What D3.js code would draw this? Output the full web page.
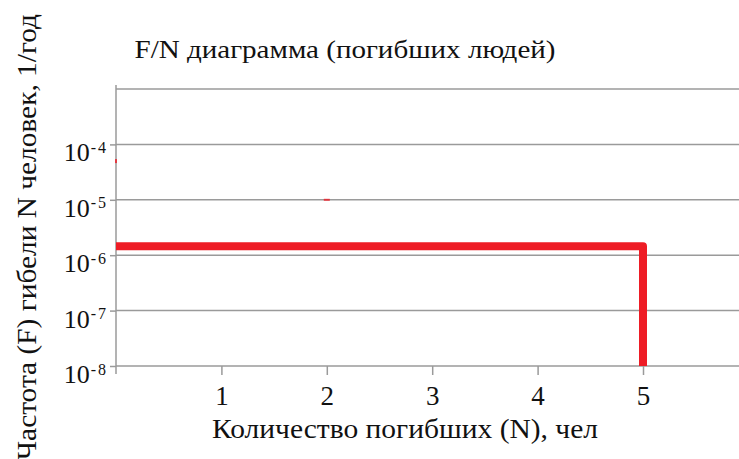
<!DOCTYPE html>
<html>
<head>
<meta charset="utf-8">
<script src="https://cdn.jsdelivr.net/npm/d3@7"></script>
<style>
  body { margin: 0; background: #fff; }
  text { font-family: "Liberation Serif", "Times New Roman", serif; fill: #111; }
</style>
</head>
<body>
<script>
let width = 739;
let height = 459;

// data
let fnN = [0, 5, 5];
let fnF = [1.45e-6, 1.45e-6, 1e-8];
let dotN = [0, 2];
let dotF = [5e-5, 1e-5];
let xTicks = [1, 2, 3, 4, 5];
let yTicks = [1e-8, 1e-7, 1e-6, 1e-5, 1e-4];
let yGrid = [1e-8, 1e-7, 1e-6, 1e-5, 1e-4, 1e-3];

let titleText = "F/N диаграмма (погибших людей)";
let xLabel = "Количество погибших (N), чел";
let yLabel = "Частота (F) гибели N человек, 1/год";

let plotLeft = 116, plotTop = 89, plotBottom = 366;

let x = d3.scaleLinear().domain([0, 6]).range([plotLeft, plotLeft + 6 * 105.4]);
let y = d3.scaleLog().domain([1e-8, 1e-3]).range([plotBottom, plotTop]);

let svg = d3.select("body").append("svg")
    .attr("width", width)
    .attr("height", height);

// the reference text runs a bit wider than Liberation Serif, stretch to fit
function fitWidth(sel, w){
    let len = sel.node().getComputedTextLength();
    if(Math.abs(len - w) > 2){
        sel.attr("textLength", w).attr("lengthAdjust", "spacingAndGlyphs");
    }
}

// horizontal grid
svg.append("g").selectAll("line")
    .data(yGrid)
    .enter()
    .append("line")
        .attr("x1", plotLeft)
        .attr("x2", width)
        .attr("y1", function(d){ return y(d); })
        .attr("y2", function(d){ return y(d); })
        .attr("stroke", "#9a9a9a")
        .attr("stroke-width", 1.5)
;

// y axis
let yAxis = svg.append("g")
    .attr("transform", "translate(" + plotLeft + ",0)")
    .call(d3.axisLeft(y).tickValues(yTicks).tickSize(6).tickSizeOuter(0).tickFormat(""));
yAxis.select(".domain").remove();
yAxis.selectAll(".tick line").attr("stroke", "#9a9a9a").attr("stroke-width", 1.5);
yAxis.append("line")
    .attr("x1", 0).attr("x2", 0)
    .attr("y1", plotTop - 4).attr("y2", plotBottom + 8)
    .attr("stroke", "#9a9a9a").attr("stroke-width", 1.5);

yAxis.selectAll(".tick")
    .append("text")
        .attr("x", -8)
        .attr("y", 16.5)
        .attr("text-anchor", "end")
        .style("font-size", "26px")
        .each(function(d){
            let t = d3.select(this);
            let e = Math.round(Math.log10(d));
            t.append("tspan").text("10");
            t.append("tspan").attr("dx", 1).attr("dy", -8.5)
                .style("font-size", "16px").style("letter-spacing", "2px").text(e);
        })
;

// x axis ticks
let xAxis = svg.append("g")
    .attr("transform", "translate(0," + plotBottom + ")")
    .call(d3.axisBottom(x).tickValues(xTicks).tickSize(9).tickSizeOuter(0).tickFormat(d3.format("d")));
xAxis.select(".domain").remove();
xAxis.selectAll(".tick line").attr("stroke", "#9a9a9a").attr("stroke-width", 1.5);
xAxis.selectAll(".tick text")
    .attr("y", 20)
    .attr("dy", "0.71em")
    .style("font-size", "27px")
    .style("font-family", "Liberation Serif")
    .attr("fill", "#111")
;

// small red marks
svg.append("g").selectAll("rect")
    .data(dotN.map(function(n, i){ return {n: n, f: dotF[i]}; }))
    .enter()
    .append("rect")
        .attr("x", function(d){ return x(d.n) - (d.n === 0 ? 1 : 3); })
        .attr("y", function(d){ return y(d.f) - (d.n === 0 ? 2 : 1); })
        .attr("width", function(d){ return d.n === 0 ? 2 : 6; })
        .attr("height", function(d){ return d.n === 0 ? 4 : 2; })
        .attr("fill", "#ee1c25")
        .attr("opacity", 0.8)
;

// F/N line
let line = d3.line()
    .x(function(d){ return x(d.n); })
    .y(function(d){ return y(d.f); });

svg.append("path")
    .datum(fnN.map(function(n, i){ return {n: n, f: fnF[i]}; }))
    .attr("d", line)
    .attr("fill", "none")
    .attr("stroke", "#ee1c25")
    .attr("stroke-width", 8)
    .attr("stroke-linejoin", "round")
;

// titles
let title = svg.append("text")
    .attr("x", 345)
    .attr("y", 58)
    .attr("text-anchor", "middle")
    .style("font-size", "25px")
    .text(titleText);
fitWidth(title, 421);

let xl = svg.append("text")
    .attr("x", 405)
    .attr("y", 438)
    .attr("text-anchor", "middle")
    .style("font-size", "27px")
    .text(xLabel);
fitWidth(xl, 386);

let yl = svg.append("text")
    .attr("transform", "translate(36,237) rotate(-90)")
    .attr("text-anchor", "middle")
    .style("font-size", "27px")
    .text(yLabel);
fitWidth(yl, 446);
</script>
</body>
</html>
